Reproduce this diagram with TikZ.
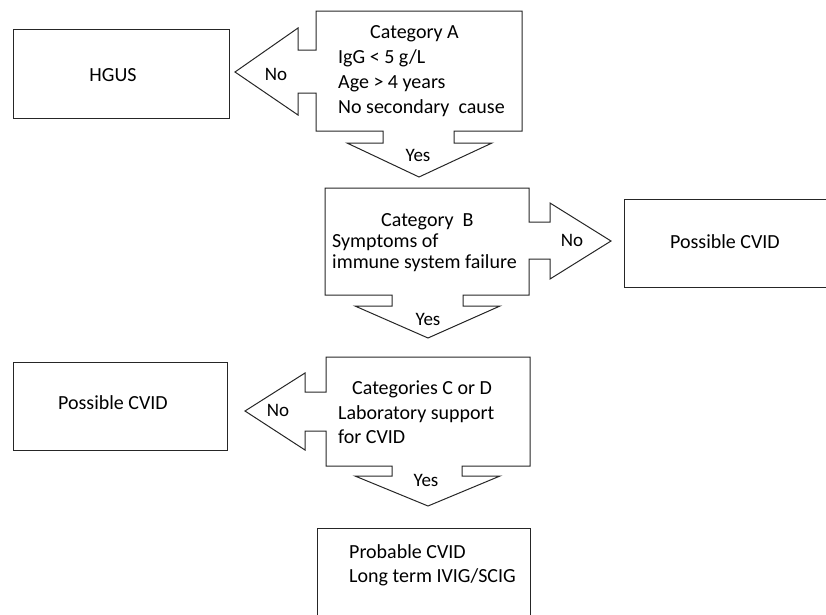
\documentclass[tikz,border=0pt]{standalone}
\usepackage{fontspec}
\setmainfont{Carlito}

\begin{document}
\begin{tikzpicture}[x=1pt, y=-1pt,
    outbox/.style={draw=black!85, line width=1pt, rectangle,
        minimum width=#1, minimum height=88pt, inner sep=0pt},
    outbox/.default=214pt,
    callout/.style={draw=black!85, line width=1pt, line join=miter},
    txt/.style={inner sep=0pt, font=\fontsize{20}{25}\selectfont},
    multi/.style={txt, align=left, anchor=west},
    answer/.style={inner sep=0pt, font=\fontsize{19}{22}\selectfont}
]
    \useasboundingbox (0,0) rectangle (826,614);

    % Category A with its two arrows
    \draw[callout] (316,11) -- (522,11) -- (522,131) -- (454,131) -- (454,143)
        -- (492,143) -- (419,177) -- (347,143) -- (383,143) -- (383,131)
        -- (316,131) -- (316,93) -- (298,93) -- (298,115) -- (235,72)
        -- (298,28) -- (298,50) -- (316,50) -- cycle;
    \node[multi] (catA) at (338,71.5)
        {\hspace*{32pt}Category A\\IgG < 5 g/L\\Age > 4 years\\No secondary\ \ cause};
    \node[answer] (noA) at (276,74) {No};
    \node[answer] (yesA) at (418,155) {Yes};

    % Category B with its two arrows
    \draw[callout] (325,188) -- (529,188) -- (529,222) -- (550,222) -- (550,203)
        -- (611,241) -- (550,279) -- (550,259) -- (529,259) -- (529,295)
        -- (463,295) -- (463,306) -- (500,306) -- (428,338) -- (355,306)
        -- (392,306) -- (392,295) -- (325,295) -- cycle;
    \node[multi, font=\fontsize{20}{21}\selectfont] (catB) at (332,242.5)
        {\hspace*{49pt}Category\ \ B\\Symptoms of\\immune system failure};
    \node[answer] (noB) at (572,240) {No};
    \node[answer] (yesB) at (428,319) {Yes};

    % Categories C or D with its two arrows
    \draw[callout] (326,357) -- (530,357) -- (530,466) -- (462,466) -- (462,476)
        -- (500,476) -- (428,506) -- (355,476) -- (392,476) -- (392,466)
        -- (326,466) -- (326,431) -- (305,431) -- (305,450) -- (245,411)
        -- (305,373) -- (305,392) -- (326,392) -- cycle;
    \node[multi, font=\fontsize{20}{24.5}\selectfont] (catC) at (338,412.5)
        {\hspace*{14pt}Categories C or D\\Laboratory support\\for CVID};
    \node[answer] (noC) at (278,410) {No};
    \node[answer] (yesC) at (426,480) {Yes};

    % outcomes
    \node[outbox=216pt, minimum height=89pt] (hgus) at (121,73.5) {};
    \node[txt] (hgustxt) at (113,75) {HGUS};
    \node[outbox=226pt] (cvidR) at (737,243) {};
    \node[txt] (cvidRtxt) at (725,242) {Possible CVID};
    \node[outbox] (cvidL) at (120,406) {};
    \node[txt] (cvidLtxt) at (113,403) {Possible CVID};
    \node[outbox=213pt, minimum height=92pt] (prob) at (423.5,574) {};
    \node[multi, font=\fontsize{20}{24}\selectfont] (probtxt) at (349,565)
        {Probable CVID\\Long term IVIG/SCIG};
\end{tikzpicture}
\end{document}
